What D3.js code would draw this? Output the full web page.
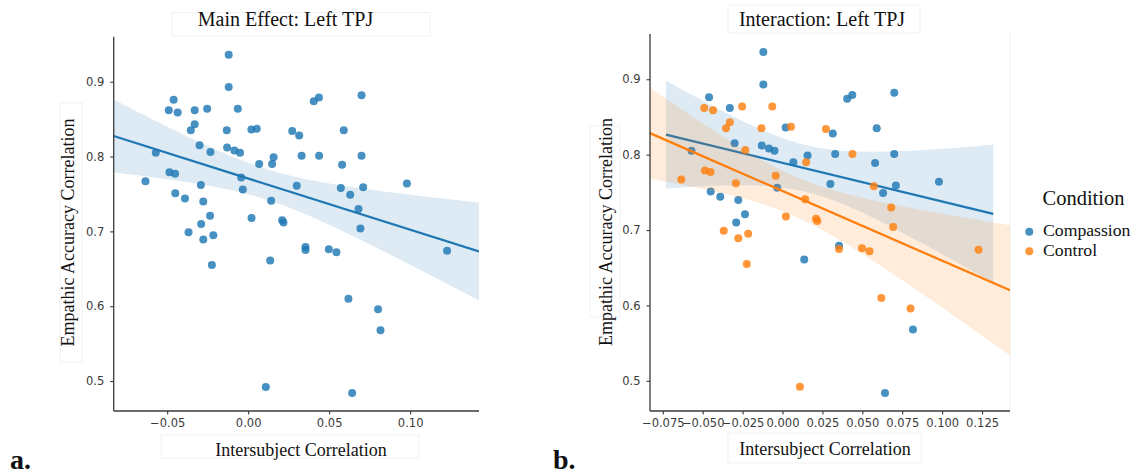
<!DOCTYPE html>
<html><head><meta charset="utf-8">
<script src="https://cdn.jsdelivr.net/npm/d3@7"></script>
<style>body{margin:0;background:#fff} svg{display:block}</style>
</head><body><svg id="chart" width="1138" height="474"></svg>
<script>
// ---------------- data ----------------
const compassionISC = [-0.012, -0.012, -0.046, -0.033, 0.002, 0.0405, 0.0437, 0.070, 0.0315, 0.059,
  -0.030, -0.057, -0.013, -0.0085, -0.005, 0.033, 0.070, 0.0157, 0.0068, 0.058,
  -0.0033, 0.030, 0.063, 0.071, 0.098, -0.045, -0.039, -0.0277, -0.0235, -0.029,
  0.0354, 0.0136, 0.0642, 0.0817];
const compassionEAC = [0.936, 0.893, 0.876, 0.862, 0.836, 0.874, 0.879, 0.882, 0.828, 0.835,
  0.815, 0.805, 0.812, 0.808, 0.805, 0.801, 0.801, 0.799, 0.790, 0.789,
  0.756, 0.761, 0.749, 0.759, 0.764, 0.751, 0.744, 0.740, 0.721, 0.710,
  0.679, 0.661, 0.484, 0.568];
const controlISC = [-0.049, -0.0435, -0.0253, -0.0064, -0.033, -0.0354, -0.0132, 0.0053, 0.0272, -0.0233,
  0.0438, 0.0148, -0.0486, -0.0451, -0.0043, -0.0634, -0.0292, 0.0572, 0.0142, 0.0681,
  0.0021, 0.021, 0.0218, 0.0693, -0.0368, -0.0277, -0.0215, -0.0224, 0.0354, 0.0498,
  0.0545, 0.1228, 0.0619, 0.0802, 0.0109];
const controlEAC = [0.862, 0.859, 0.864, 0.864, 0.843, 0.835, 0.835, 0.837, 0.834, 0.806,
  0.801, 0.790, 0.779, 0.777, 0.772, 0.767, 0.762, 0.758, 0.741, 0.730,
  0.718, 0.715, 0.712, 0.704, 0.699, 0.689, 0.695, 0.655, 0.675, 0.676,
  0.672, 0.674, 0.610, 0.596, 0.492];

const conditions = ["Compassion", "Control"];
const conditionColors = ["#1f77b4", "#ff7f0e"];
const yTicks = [0.5, 0.6, 0.7, 0.8, 0.9];
const yTickLabels = ["0.5", "0.6", "0.7", "0.8", "0.9"];
const leftXTicks = [-0.05, 0.0, 0.05, 0.10];
const leftXTickLabels = ["\u22120.05", "0.00", "0.05", "0.10"];
const rightXTicks = [-0.075, -0.05, -0.025, 0.0, 0.025, 0.05, 0.075, 0.10, 0.125];
const rightXTickLabels = ["\u22120.075", "\u22120.050", "\u22120.025", "0.000", "0.025", "0.050", "0.075", "0.100", "0.125"];
const xDomain = [-0.083, 0.1425];
const yDomain = [0.46, 0.96];
const pooledFitRange = [-0.083, 0.1425];
const compassionFitRange = [-0.073, 0.132];
const controlFitRange = [-0.083, 0.1425];

// ---------------- helpers ----------------
const svg = d3.select("#chart");
const SERIF = "'Liberation Serif','Times New Roman',serif";
const SANS = "'DejaVu Sans',sans-serif";
const INK = "#3a3a3a";

function linFit(xs, ys) {
  const n = xs.length;
  const mx = d3.mean(xs), my = d3.mean(ys);
  let sxx = 0, sxy = 0;
  for (let i = 0; i < n; i++) { sxx += (xs[i]-mx)**2; sxy += (xs[i]-mx)*(ys[i]-my); }
  const b = sxy / sxx, a = my - b*mx;
  let sse = 0;
  for (let i = 0; i < n; i++) sse += (ys[i] - a - b*xs[i])**2;
  const s = Math.sqrt(sse/(n-2));
  const df = n-2, z = 1.959964;
  const t = z + (z**3+z)/(4*df) + (5*z**5+16*z**3+3*z)/(96*df*df);
  const f = x => a + b*x;
  const hw = x => t*s*Math.sqrt(1/n + (x-mx)**2/sxx);
  return {f, hw};
}

function drawFit(g, x, y, xs, ys, range, color) {
  const m = linFit(xs, ys);
  const grid = d3.range(0, 101).map(i => range[0] + (range[1]-range[0])*i/100);
  g.append("path")
    .attr("d", d3.area().x(d => x(d)).y0(d => y(m.f(d)-m.hw(d))).y1(d => y(m.f(d)+m.hw(d)))(grid))
    .attr("fill", color).attr("fill-opacity", 0.15).attr("stroke", "none");
  g.append("path")
    .attr("d", d3.line().x(d => x(d)).y(d => y(m.f(d)))(range))
    .attr("stroke", color).attr("stroke-width", 2.3).attr("fill", "none");
}

function drawDots(g, x, y, xs, ys, color) {
  g.selectAll(null).data(xs.map((v,i)=>[v, ys[i]])).enter().append("circle")
    .attr("cx", d => x(d[0])).attr("cy", d => y(d[1])).attr("r", 4)
    .attr("fill", color).attr("fill-opacity", 0.82);
}

function faintBox(x0, y0, x1, y1) {
  svg.append("rect").attr("x", x0).attr("y", y0).attr("width", x1-x0).attr("height", y1-y0)
    .attr("fill", "#fff").attr("stroke", "#f1f1f1").attr("stroke-width", 1);
}

function drawAxes(g, x, y, xt, xtl, x0, x1, y0, y1) {
  const ax = g.append("g").attr("transform", `translate(0,${y0})`)
    .call(d3.axisBottom(x).tickValues(xt).tickFormat((d,i)=>xtl[i]).tickSize(3.5).tickPadding(4.5).tickSizeOuter(0));
  const ay = g.append("g").attr("transform", `translate(${x0},0)`)
    .call(d3.axisLeft(y).tickValues(yTicks).tickFormat((d,i)=>yTickLabels[i]).tickSize(3.5).tickPadding(6).tickSizeOuter(0));
  [ax, ay].forEach(a => {
    a.select(".domain").remove();
    a.selectAll(".tick line").attr("stroke", INK).attr("stroke-width", 1.1);
    a.selectAll(".tick text").attr("fill", INK).style("font-family", SANS).style("font-size", "11.5px");
  });
  g.append("line").attr("x1", x0).attr("x2", x0).attr("y1", y1).attr("y2", y0)
    .attr("stroke", INK).attr("stroke-width", 1.3);
  g.append("line").attr("x1", x0).attr("x2", x1).attr("y1", y0).attr("y2", y0)
    .attr("stroke", INK).attr("stroke-width", 1.3);
}

function text(x, y, s, size, opts = {}) {
  const t = svg.append("text").attr("x", x).attr("y", y).text(s)
    .style("font-family", SERIF).style("font-size", size + "px").attr("fill", "#111")
    .attr("text-anchor", opts.anchor || "middle");
  if (opts.bold) t.style("font-weight", "bold");
  if (opts.rotate) t.attr("transform", `rotate(-90,${x},${y})`);
  return t;
}

// ---------------- faint pasted-label boxes ----------------
faintBox(172, 12.5, 430, 36);
faintBox(60, 103, 82, 362);
faintBox(161, 435, 419, 458);
faintBox(728, 5, 920, 33);
faintBox(590, 126, 620, 317);
faintBox(728, 433, 921, 463);
svg.append("line").attr("x1", 1010).attr("x2", 1010).attr("y1", 33).attr("y2", 411).attr("stroke", "#f0f0f0");

// ---------------- panel a ----------------
{
  const X0 = 113.7, X1 = 479, Y0 = 411, Y1 = 36.8;
  const x = d3.scaleLinear().domain(xDomain).range([X0, X1]);
  const y = d3.scaleLinear().domain(yDomain).range([Y0, Y1]);
  const g = svg.append("g");
  const clip = svg.append("clipPath").attr("id", "clipA");
  clip.append("rect").attr("x", X0).attr("y", Y1).attr("width", X1-X0).attr("height", Y0-Y1);
  const allX = compassionISC.concat(controlISC), allY = compassionEAC.concat(controlEAC);
  drawDots(g, x, y, allX, allY, conditionColors[0]);
  drawFit(g.append("g").attr("clip-path", "url(#clipA)"), x, y, allX, allY, pooledFitRange, conditionColors[0]);
  drawAxes(g, x, y, leftXTicks, leftXTickLabels, X0, X1, Y0, Y1);
}

// ---------------- panel b ----------------
{
  const X0 = 650, X1 = 1010, Y0 = 411, Y1 = 34;
  const x = d3.scaleLinear().domain(xDomain).range([X0, X1]);
  const y = d3.scaleLinear().domain(yDomain).range([Y0, Y1]);
  const g = svg.append("g");
  const clip = svg.append("clipPath").attr("id", "clipB");
  clip.append("rect").attr("x", X0).attr("y", Y1).attr("width", X1-X0).attr("height", Y0-Y1);
  drawDots(g, x, y, compassionISC, compassionEAC, conditionColors[0]);
  drawFit(g.append("g").attr("clip-path", "url(#clipB)"), x, y, compassionISC, compassionEAC, compassionFitRange, conditionColors[0]);
  drawDots(g, x, y, controlISC, controlEAC, conditionColors[1]);
  drawFit(g.append("g").attr("clip-path", "url(#clipB)"), x, y, controlISC, controlEAC, controlFitRange, conditionColors[1]);
  drawAxes(g, x, y, rightXTicks, rightXTickLabels, X0, X1, Y0, Y1);
}

// ---------------- texts ----------------
text(285.5, 26, "Main Effect: Left TPJ", 20);
text(822, 25.5, "Interaction: Left TPJ", 20);
text(74, 232.5, "Empathic Accuracy Correlation", 18, {rotate: true});
text(611.5, 232, "Empathic Accuracy Correlation", 18, {rotate: true});
text(301, 456, "Intersubject Correlation", 18);
text(825, 455, "Intersubject Correlation", 18);
text(10, 469, "a.", 28, {anchor: "start", bold: true});
text(553, 469, "b.", 28, {anchor: "start", bold: true});

// ---------------- legend ----------------
text(1042.5, 205, "Condition", 20.5, {anchor: "start"});
conditions.forEach((c, i) => {
  const yy = 231.7 + i*19.5;
  svg.append("circle").attr("cx", 1029.3).attr("cy", yy).attr("r", 4).attr("fill", conditionColors[i]).attr("fill-opacity", 0.82);
  text(1043, yy + 3.5 + 0, c, 17.7, {anchor: "start"}).attr("dy", "0.05em");
});
</script></body></html>
